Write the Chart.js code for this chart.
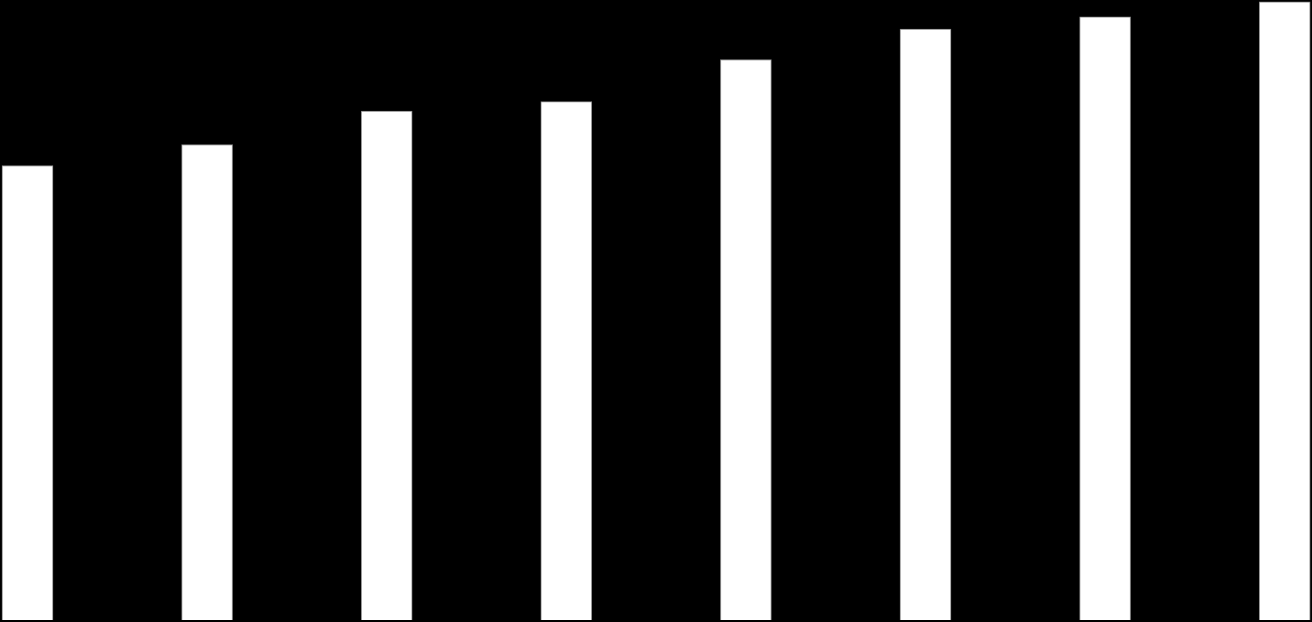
<!DOCTYPE html>
<html>
<head>
<meta charset="utf-8">
<script src="https://cdn.jsdelivr.net/npm/chart.js@4"></script>
<style>
  html, body { margin: 0; padding: 0; background: #000; overflow: hidden; }
  #wrap { width: 1312px; height: 622px; }
</style>
</head>
<body>
<div id="wrap"><canvas id="bars" width="1312" height="622"></canvas></div>
<script>
// 8 columns, no labels visible in the picture
const categories = ['1', '2', '3', '4', '5', '6', '7', '8'];
const values = [73.3, 76.7, 82.1, 83.6, 90.4, 95.3, 97.3, 99.7];
const yMax = 100;

document.addEventListener('DOMContentLoaded', () => {
  const ctx = document.getElementById('bars').getContext('2d');
  new Chart(ctx, {
    type: 'bar',
    data: {
      labels: categories,
      datasets: [{
        data: values,
        backgroundColor: '#ffffff',
        borderColor: '#8a8a8a',
        borderWidth: 1,
        barThickness: 51,
        clip: false   // edge bars stick out past the chart area
      }]
    },
    options: {
      responsive: false,
      animation: false,
      devicePixelRatio: 1,
      layout: { padding: { left: 27.5, right: 27.3, top: 0, bottom: 2 } },
      scales: {
        x: { display: false, offset: false },
        y: { display: false, min: 0, max: yMax }
      },
      plugins: { legend: { display: false }, tooltip: { enabled: false } }
    }
  });
});
</script>
</body>
</html>
